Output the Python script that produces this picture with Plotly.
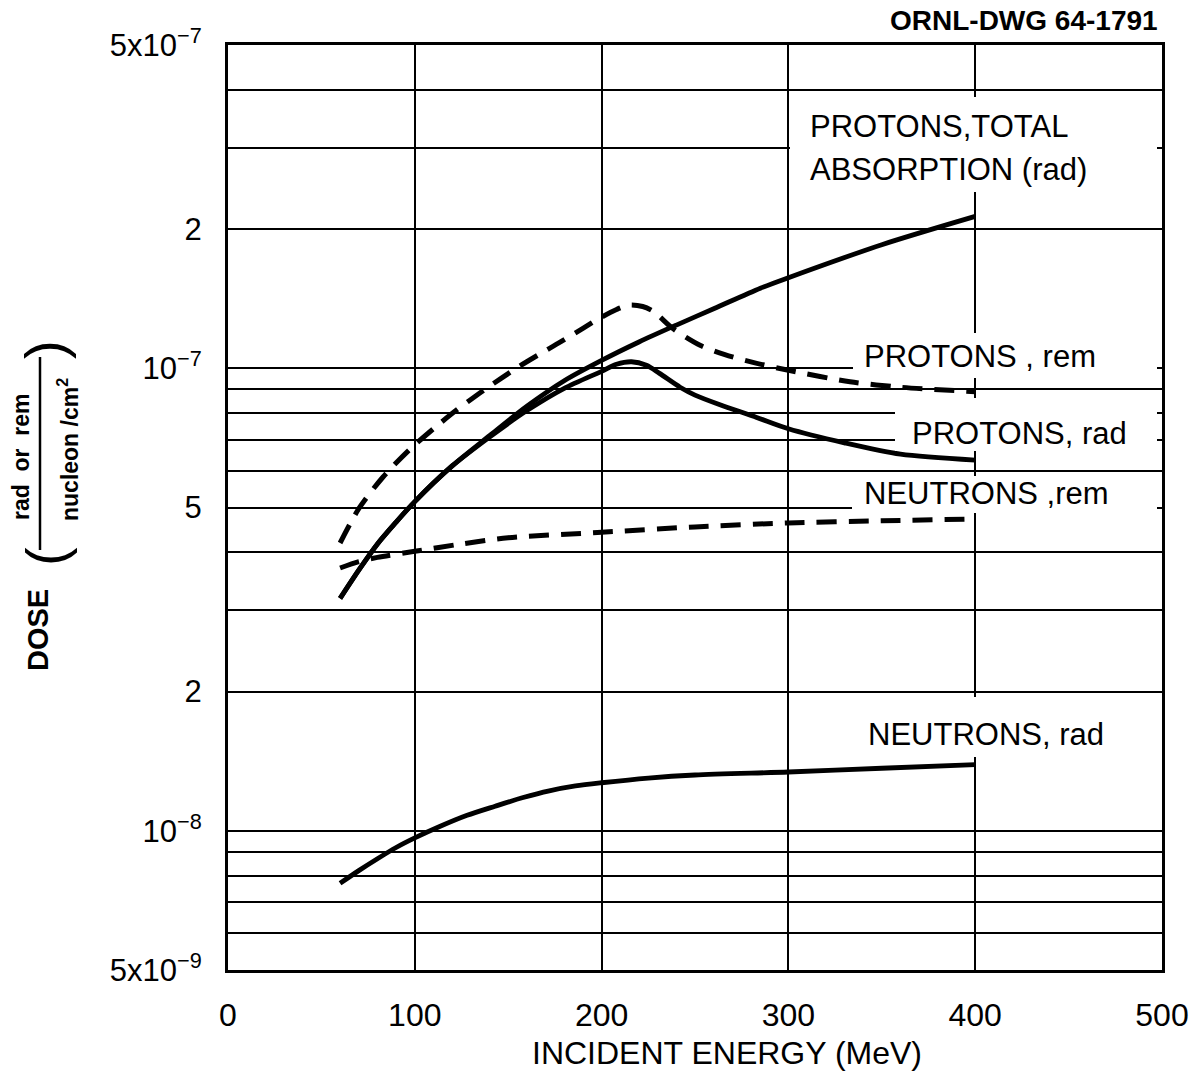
import plotly.graph_objects as go

# ---------------- data ----------------
pt_energy = [60, 70, 80, 90, 100, 120, 140, 160, 180, 200, 220, 240, 260, 285, 300, 350, 400]
pt_dose = [3.18e-8, 3.66e-8, 4.17e-8, 4.65e-8, 5.15e-8, 6.15e-8, 7.15e-8, 8.28e-8, 9.4e-8,
           1.04e-7, 1.14e-7, 1.24e-7, 1.345e-7, 1.49e-7, 1.57e-7, 1.85e-7, 2.13e-7]

pr_energy = [60, 70, 80, 90, 100, 120, 140, 160, 180, 200, 208, 216, 224, 231, 242, 250,
             263, 283, 300, 330, 360, 400]
pr_dose = [3.18e-8, 3.66e-8, 4.17e-8, 4.65e-8, 5.15e-8, 6.15e-8, 7.1e-8, 8.1e-8, 9.05e-8,
           9.85e-8, 1.02e-7, 1.033e-7, 1.015e-7, 9.75e-8, 9.1e-8, 8.75e-8, 8.35e-8, 7.83e-8,
           7.4e-8, 6.9e-8, 6.52e-8, 6.33e-8]

pm_energy = [60, 70, 83, 97, 110, 122, 135, 146, 156, 168, 178, 190, 200, 208, 215, 222, 228,
             238, 253, 266, 281, 300, 333, 360, 400]
pm_dose = [4.19e-8, 4.97e-8, 5.82e-8, 6.66e-8, 7.4e-8, 8.1e-8, 8.85e-8, 9.5e-8, 1.01e-7,
           1.08e-7, 1.14e-7, 1.22e-7, 1.29e-7, 1.34e-7, 1.37e-7, 1.36e-7, 1.325e-7, 1.22e-7,
           1.12e-7, 1.07e-7, 1.03e-7, 9.9e-8, 9.35e-8, 9.1e-8, 8.9e-8]

nm_energy = [60, 70, 80, 100, 125, 150, 200, 250, 300, 350, 400]
nm_dose = [3.7e-8, 3.82e-8, 3.9e-8, 4.02e-8, 4.17e-8, 4.3e-8, 4.42e-8, 4.54e-8, 4.63e-8,
           4.68e-8, 4.72e-8]

nr_energy = [60, 70, 80, 90, 100, 113, 128, 143, 158, 172, 186, 200, 225, 250, 300, 350, 400]
nr_dose = [7.7e-9, 8.2e-9, 8.7e-9, 9.2e-9, 9.65e-9, 1.02e-8, 1.08e-8, 1.13e-8, 1.18e-8,
           1.22e-8, 1.25e-8, 1.27e-8, 1.30e-8, 1.32e-8, 1.34e-8, 1.365e-8, 1.39e-8]

x_tickvals = [0, 100, 200, 300, 400, 500]
x_ticktext = ["0", "100", "200", "300", "400", "500"]
y_tickvals = [5e-9, 1e-8, 2e-8, 5e-8, 1e-7, 2e-7, 5e-7]
y_ticktext = ["5x10<sup>−9</sup>", "10<sup>−8</sup>", "2", "5", "10<sup>−7</sup>", "2",
              "5x10<sup>−7</sup>"]
y_minor = [6e-9, 7e-9, 8e-9, 9e-9, 3e-8, 4e-8, 6e-8, 7e-8, 8e-8, 9e-8, 3e-7, 4e-7]

FONT = "Liberation Sans"

fig = go.Figure()

def add_curve(x, y, dash=None, width=4.8):
    fig.add_trace(go.Scatter(
        x=x, y=y, mode="lines",
        line=dict(color="black", width=width, dash=dash, shape="spline", smoothing=0.8),
        showlegend=False, hoverinfo="skip"))

add_curve(pt_energy, pt_dose)
add_curve(pr_energy, pr_dose)
add_curve(pm_energy, pm_dose, dash="20px,12px", width=5)
add_curve(nm_energy, nm_dose, dash="20px,12px", width=5)
add_curve(nr_energy, nr_dose)

# plot area in pixels: x 228..1162, y 45..970
def px(xp):
    return (xp - 228) / 934.0

def py(yp):
    return (970 - yp) / 925.0

# ---- white boxes behind the curve labels (hide the gridlines) ----
boxes = [  # left, top, width, height (pixels)
    (790, 97, 367, 95),
    (853, 333, 304, 45),
    (895, 398, 262, 53),
    (852, 476, 305, 37),
    (850, 697, 307, 60),
]
for bx, by, bw, bh in boxes:
    fig.add_annotation(text=" ", xref="paper", yref="paper", x=px(bx), y=py(by),
                       xanchor="left", yanchor="top", width=bw, height=bh,
                       bgcolor="white", borderpad=0, borderwidth=0, showarrow=False,
                       font=dict(family=FONT, size=10, color="white"))

# ---- curve labels ----
labels = [
    ("PROTONS,TOTAL", 808, 127),
    ("ABSORPTION (rad)", 808, 170),
    ("PROTONS , rem", 862, 356),
    ("PROTONS, rad", 910, 433),
    ("NEUTRONS ,rem", 862, 493),
    ("NEUTRONS, rad", 866, 735),
]
for txt, x, y in labels:
    fig.add_annotation(text=txt, xref="paper", yref="paper", x=px(x), y=py(y),
                       xanchor="left", yanchor="middle", showarrow=False,
                       font=dict(family=FONT, size=31, color="black"))

# ---- drawing number ----
fig.add_annotation(text="ORNL-DWG 64-1791", xref="paper", yref="paper", x=px(1160), y=py(20),
                   xanchor="right", yanchor="middle", showarrow=False,
                   font=dict(family=FONT, size=28, color="black", weight="bold"))

# ---- x axis title ----
fig.add_annotation(text="INCIDENT ENERGY (MeV)", xref="paper", yref="paper", x=px(727),
                   y=py(1053), xanchor="center", yanchor="middle", showarrow=False,
                   font=dict(family=FONT, size=32, color="black"))

# ---- y axis title (composite, rotated) ----
def ytitle(txt, x, y, size, weight="normal"):
    fig.add_annotation(text=txt, xref="paper", yref="paper", x=px(x), y=py(y), textangle=-90,
                       xanchor="center", yanchor="middle", showarrow=False,
                       font=dict(family=FONT, size=size, color="black", weight=weight))

ytitle("DOSE", 38, 630, 29, "bold")
ytitle("(", 45, 557, 56)
ytitle(")", 45, 350, 56)
ytitle("rad  or  rem", 21, 457, 23, "bold")
ytitle("nucleon /cm<sup>2</sup>", 68, 450, 23, "bold")
fig.add_shape(type="line", xref="paper", yref="paper", x0=px(40), x1=px(40),
              y0=py(550), y1=py(357), line=dict(color="black", width=2.5))

fig.update_layout(
    width=1200, height=1075,
    margin=dict(l=228, r=38, t=45, b=105),
    paper_bgcolor="white", plot_bgcolor="white",
    font=dict(family=FONT, color="black"),
    xaxis=dict(
        range=[0, 500], tickmode="array", tickvals=x_tickvals, ticktext=x_ticktext,
        showgrid=True, gridcolor="black", gridwidth=1.6, zeroline=False,
        showline=True, linecolor="black", linewidth=3, mirror=True,
        ticks="", ticklabelstandoff=15,
        tickfont=dict(family=FONT, size=32, color="black"),
    ),
    yaxis=dict(
        type="log", range=[-8.30103, -6.30103],
        tickmode="array", tickvals=y_tickvals, ticktext=y_ticktext,
        showgrid=True, gridcolor="black", gridwidth=1.6, zeroline=False,
        showline=True, linecolor="black", linewidth=3, mirror=True,
        ticks="", ticklabelstandoff=17,
        tickfont=dict(family=FONT, size=31, color="black"),
        minor=dict(tickmode="array", tickvals=y_minor, showgrid=True,
                   gridcolor="black", gridwidth=1.6, ticks=""),
    ),
)

fig.write_html("out.html")
